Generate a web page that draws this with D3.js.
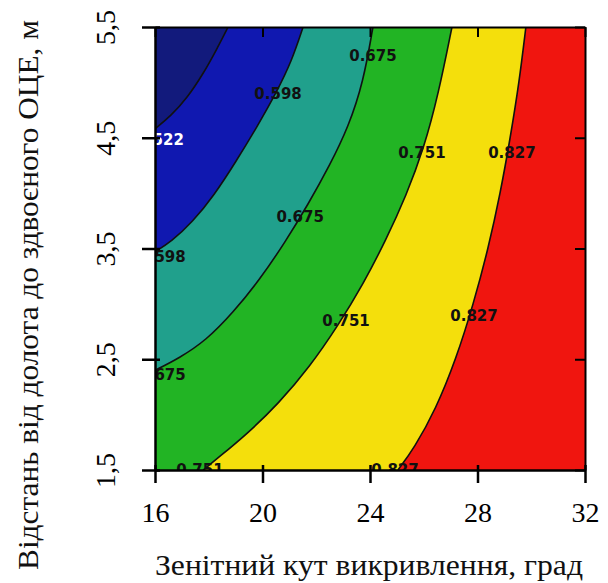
<!DOCTYPE html>
<html>
<head>
<meta charset="utf-8">
<script src="https://cdn.jsdelivr.net/npm/d3@7"></script>
<style>
  html, body { margin: 0; padding: 0; background: #fff; }
  svg { display: block; }
</style>
</head>
<body>
<svg id="chart" width="608" height="583"></svg>
<script>
// ---- data ----
const xTicks = [16, 20, 24, 28, 32];
const yTicks = [1.5, 2.5, 3.5, 4.5, 5.5];
const levels = [0.522, 0.598, 0.675, 0.751, 0.827];

// contour lines: [zenith angle, distance]
const contour522 = [[18.72, 5.50], [18.30, 5.30], [17.80, 5.08], [17.20, 4.86], [16.60, 4.70], [16.00, 4.58]];
const contour598 = [[21.51, 5.50], [21.10, 5.20], [20.50, 4.90], [19.80, 4.60], [19.00, 4.28],
                    [18.20, 3.98], [17.40, 3.74], [16.60, 3.56], [16.00, 3.47]];
const contour675 = [[24.11, 5.50], [23.75, 5.00], [23.20, 4.60], [22.50, 4.25], [21.70, 3.90],
                    [20.85, 3.56], [19.90, 3.22], [18.90, 2.92], [17.90, 2.67], [16.90, 2.51], [16.00, 2.40]];
const contour751 = [[27.05, 5.50], [26.55, 4.90], [26.00, 4.40], [25.35, 3.98], [24.60, 3.58],
                    [23.75, 3.18], [22.80, 2.80], [21.75, 2.43], [20.60, 2.10], [19.40, 1.82],
                    [18.40, 1.62], [17.79, 1.50]];
const contour827 = [[29.80, 5.50], [29.55, 5.00], [29.22, 4.50], [28.85, 4.00], [28.40, 3.50],
                    [27.85, 3.00], [27.20, 2.50], [26.45, 2.05], [25.65, 1.70], [25.04, 1.50]];

// contour labels: [x, y, level]
const labelPoints = [
  [24.11, 5.25, 0.675], [20.58, 4.90, 0.598], [16.19, 4.49, 0.522], [16.26, 3.43, 0.598],
  [21.40, 3.79, 0.675], [25.93, 4.37, 0.751], [29.28, 4.37, 0.827], [23.11, 2.85, 0.751],
  [27.87, 2.90, 0.827], [16.26, 2.37, 0.675], [17.67, 1.51, 0.751], [24.93, 1.51, 0.827]
];

const xTitle = "Зенітний кут викривлення, град";
const yTitle = "Відстань від долота до здвоєного ОЦЕ, м";

// ---- styling ----
const bandColors = ["#121a7c", "#1018b0", "#20a08c", "#22b424", "#f4df0c", "#f0150f"];
const serif = "'Liberation Serif', 'Times New Roman', Times, serif";

const svg = d3.select("#chart");
const plot = { left: 155, right: 585, top: 27, bottom: 470 };

const x = d3.scaleLinear().domain([16, 32]).range([plot.left, plot.right]);
const y = d3.scaleLinear().domain([1.5, 5.5]).range([plot.bottom, plot.top]);

svg.append("defs").append("clipPath").attr("id", "clip")
  .append("rect")
  .attr("x", plot.left).attr("y", plot.top)
  .attr("width", plot.right - plot.left).attr("height", plot.bottom - plot.top);

const g = svg.append("g").attr("clip-path", "url(#clip)");

const lineGen = d3.line().x(d => x(d[0])).y(d => y(d[1])).curve(d3.curveBasis);

const contours = [contour522, contour598, contour675, contour751, contour827];

// background band (highest level)
g.append("rect")
  .attr("x", plot.left).attr("y", plot.top)
  .attr("width", plot.right - plot.left).attr("height", plot.bottom - plot.top)
  .attr("fill", bandColors[5]);

// fill bands from right to left (painter's order)
for (let i = contours.length - 1; i >= 0; i--) {
  const pts = contours[i];
  const last = pts[pts.length - 1];
  const path = lineGen(pts) +
    "L" + x(16) + "," + y(last[1]) +
    "L" + x(16) + "," + y(5.5) + "Z";
  g.append("path").attr("d", path).attr("fill", bandColors[i]).attr("stroke", "none");
}

// contour lines
contours.forEach(pts => {
  g.append("path").attr("d", lineGen(pts))
    .attr("fill", "none").attr("stroke", "#111").attr("stroke-width", 1.6);
});

// contour labels
g.selectAll("text.clabel").data(labelPoints).enter().append("text")
  .attr("class", "clabel")
  .attr("x", d => x(d[0]))
  .attr("y", d => y(d[1]) + 6)
  .attr("text-anchor", "middle")
  .attr("font-family", "'DejaVu Sans', sans-serif")
  .attr("font-size", 15)
  .attr("font-weight", "bold")
  .attr("fill", d => d[2] === levels[0] ? "#ffffff" : "#111")
  .text(d => d[2].toFixed(3));

// ---- axes ----
const fmtComma = d => d3.format(".1f")(d).replace(".", ",");

const xAxis = svg.append("g").attr("transform", `translate(0,${plot.bottom})`)
  .call(d3.axisBottom(x).tickValues(xTicks).tickSizeInner(13).tickSizeOuter(0).tickFormat(d3.format("d")));
xAxis.select(".domain").attr("stroke", "#000").attr("stroke-width", 2.5);
xAxis.selectAll(".tick line").attr("y1", -5).attr("y2", 13).attr("stroke", "#000").attr("stroke-width", 2.5);
xAxis.selectAll(".tick text")
  .attr("y", 52).attr("dy", null)
  .attr("font-family", serif).attr("font-size", 28).attr("fill", "#000");

const yAxis = svg.append("g").attr("transform", `translate(${plot.left},0)`)
  .call(d3.axisLeft(y).tickValues(yTicks).tickSizeInner(13).tickSizeOuter(0).tickFormat(fmtComma));
yAxis.select(".domain").attr("stroke", "#000").attr("stroke-width", 2.5);
yAxis.selectAll(".tick line").attr("x1", -13).attr("x2", 5).attr("stroke", "#000").attr("stroke-width", 2.5);
yAxis.selectAll(".tick text")
  .attr("x", null).attr("dy", null)
  .attr("text-anchor", "middle")
  .attr("transform", "translate(-40,0) rotate(-90)")
  .attr("font-family", serif).attr("font-size", 28).attr("fill", "#000");

const topAxis = svg.append("g").attr("transform", `translate(0,${plot.top})`)
  .call(d3.axisTop(x).tickValues(xTicks).tickSizeInner(-10).tickSizeOuter(0).tickFormat(""));
topAxis.select(".domain").attr("stroke", "#000").attr("stroke-width", 2);
topAxis.selectAll(".tick line").attr("stroke", "#000").attr("stroke-width", 2);

const rightAxis = svg.append("g").attr("transform", `translate(${plot.right},0)`)
  .call(d3.axisRight(y).tickValues(yTicks).tickSizeInner(-10).tickSizeOuter(0).tickFormat(""));
rightAxis.select(".domain").attr("stroke", "#000").attr("stroke-width", 2);
rightAxis.selectAll(".tick line").attr("stroke", "#000").attr("stroke-width", 2);

// titles
svg.append("text")
  .attr("x", (plot.left + plot.right) / 2 - 1).attr("y", 575)
  .attr("text-anchor", "middle")
  .attr("font-family", serif).attr("font-size", 29).attr("fill", "#111")
  .attr("textLength", 428).attr("lengthAdjust", "spacingAndGlyphs")
  .text(xTitle);

svg.append("text")
  .attr("transform", `translate(38,${(20 + 570) / 2}) rotate(-90)`)
  .attr("text-anchor", "middle")
  .attr("font-family", serif).attr("font-size", 29).attr("fill", "#111")
  .attr("textLength", 550).attr("lengthAdjust", "spacingAndGlyphs")
  .text(yTitle);
</script>
</body>
</html>
